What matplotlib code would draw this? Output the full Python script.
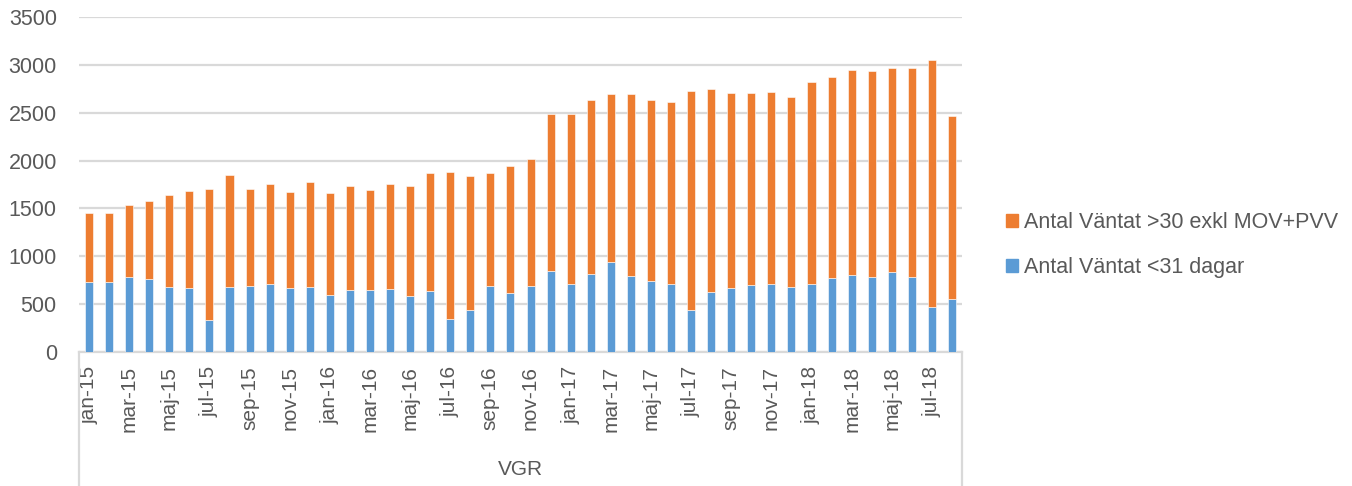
import matplotlib.pyplot as plt
from matplotlib.patches import Patch

plt.rcParams['font.family'] = ['Liberation Sans', 'DejaVu Sans']

# månader jan-15 .. aug-18
manader = ['jan', 'feb', 'mar', 'apr', 'maj', 'jun', 'jul', 'aug', 'sep', 'okt', 'nov', 'dec']
etiketter = [m + '-' + a for a in ['15', '16', '17', '18'] for m in manader][:44]

# Antal Väntat <31 dagar
under31 = [736, 733, 785, 764, 684, 667, 330, 681, 688, 712, 667, 684,
           594, 646, 646, 660, 590, 642, 344, 441, 688, 615, 688, 851,
           715, 819, 944, 799, 747, 715, 434, 622, 670, 705, 715, 677,
           715, 778, 809, 788, 837, 781, 465, 549]

# Antal Väntat >30 exkl MOV+PVV
over30 = [712, 722, 753, 809, 955, 1017, 1368, 1170, 1017, 1048, 1000, 1094,
          1062, 1090, 1048, 1090, 1146, 1230, 1541, 1396, 1180, 1329, 1329, 1639,
          1771, 1813, 1754, 1895, 1885, 1896, 2288, 2128, 2038, 2000, 2004, 1990,
          2101, 2094, 2139, 2153, 2125, 2184, 2587, 1920]

blue = '#5B9BD5'
orange = '#ED7D31'
grey = '#595959'
linje = '#D9D9D9'

fig = plt.figure(figsize=(13.52, 4.86), dpi=100)
ax = fig.add_axes([79 / 1352, 1 - 352 / 486, 883 / 1352, 335 / 486])

x = list(range(len(etiketter)))
ax.bar(x, under31, width=0.4, color=blue, edgecolor='white', linewidth=0.4, zorder=3)
ax.bar(x, over30, width=0.4, bottom=under31, color=orange, edgecolor='white', linewidth=0.4, zorder=3)

ax.set_xlim(-0.5, len(x) - 0.5)
ax.set_ylim(0, 3500)
ax.set_yticks(range(0, 3501, 500))
ax.yaxis.grid(True, color=linje, linewidth=1.6, zorder=0)
ax.tick_params(axis='y', length=0, pad=16, labelsize=15.5, labelcolor=grey)

ax.set_xticks(x[::2])
ax.set_xticklabels(etiketter[::2], rotation=90, va='top', ha='center',
                   family=['Liberation Sans Narrow', 'Liberation Sans'])
ax.tick_params(axis='x', length=0, pad=10, labelsize=15, labelcolor=grey)

for s in ['top', 'right', 'left']:
    ax.spines[s].set_visible(False)
ax.spines['bottom'].set_color(linje)
ax.spines['bottom'].set_linewidth(1.6)

# kategoriruta under axeln
ax.plot([0, 0], [0, -0.41], transform=ax.transAxes, clip_on=False, color=linje, linewidth=1.6)
ax.plot([1, 1], [0, -0.41], transform=ax.transAxes, clip_on=False, color=linje, linewidth=1.6)
ax.text(0.5, -0.352, 'VGR', transform=ax.transAxes, ha='center', va='center',
        fontsize=15, color=grey)

handles = [Patch(color=orange), Patch(color=blue)]
namn = ['Antal Väntat >30 exkl MOV+PVV', 'Antal Väntat <31 dagar']
fig.legend(handles, namn, loc='center left', bbox_to_anchor=(995 / 1352, 1 - 245 / 486),
           frameon=False, fontsize=15.5, labelcolor=grey, handlelength=0.55,
           handleheight=0.55, handletextpad=0.3, labelspacing=1.1, borderpad=0)

fig.savefig('out.png', dpi=100)
